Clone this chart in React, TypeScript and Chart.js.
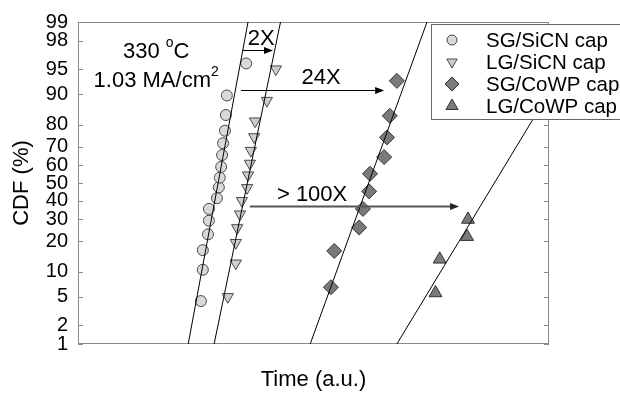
import React, { useEffect, useRef } from "react";
import { Chart, registerables } from "chart.js";

Chart.register(...registerables);

// ---------------- data ----------------
const tickLabelsCdf = [1, 2, 5, 10, 20, 30, 40, 50, 60, 70, 80, 90, 95, 98, 99];

const seriesNames = ["SG/SiCN cap", "LG/SiCN cap", "SG/CoWP cap", "LG/CoWP cap"];

const sgSiCNTime = [26.1, 26.5, 26.5, 27.6, 27.8, 27.8, 29.5, 29.9, 30.1, 30.4, 30.6, 30.8, 31.2, 31.4, 31.6, 35.7];
const sgSiCNCdf = [4.4, 10.5, 16.6, 22.9, 29.3, 35.4, 41.3, 47.5, 53.1, 59.2, 65.7, 71.7, 77.5, 83.7, 89.7, 95.8];

const lgSiCNTime = [31.8, 33.5, 33.5, 33.8, 34.4, 34.8, 35.9, 36.1, 36.5, 36.7, 37.4, 37.6, 40.1, 42.0];
const lgSiCNCdf = [5.0, 12.3, 19.4, 25.8, 32.6, 39.9, 47.2, 54.5, 61.1, 68.0, 74.7, 81.4, 88.3, 95.0];

const sgCoWPTime = [53.7, 54.4, 59.7, 60.5, 61.8, 62.0, 65.0, 65.6, 66.2, 67.7];
const sgCoWPCdf = [6.6, 16.3, 26.0, 35.4, 45.2, 55.3, 64.6, 74.5, 83.4, 93.0];

const lgCoWPTime = [75.9, 76.8, 82.6, 82.8];
const lgCoWPCdf = [5.6, 13.5, 21.9, 29.9];

// fitted lines (time at 1 % and at 99 %)
const fitCdf = [1, 99];
const sgSiCNFitTime = [23.4, 36.1];
const lgSiCNFitTime = [28.9, 43.0];
const sgCoWPFitTime = [49.3, 74.1];
const lgCoWPFitTime = [67.7, 109.1];

// annotations
const arrowLabels = ["2X", "24X", "> 100X"];
const arrowStartTime = [35.0, 34.6, 36.5];
const arrowEndTime = [41.4, 65.0, 80.9];
const arrowCdf = [97.3, 91.1, 37.0];
const arrowLabelTime = [38.9, 51.6, 49.7];
const arrowLabelCdf = [98.1, 93.6, 43.0];

const conditionTime = 16.6;
const conditionCdf = [97.1, 93.0];

// ---------------- helpers ----------------
const FONT = '"Liberation Sans", Arial, Helvetica, sans-serif';
const FRAME = "#8a8a8a";

function probit(p: number): number {
  const a = [-3.969683028665376e1, 2.209460984245205e2, -2.759285104469687e2, 1.38357751867269e2, -3.066479806614716e1, 2.506628277459239];
  const b = [-5.447609879822406e1, 1.615858368580409e2, -1.556989798598866e2, 6.680131188771972e1, -1.328068155288572e1];
  const c = [-7.784894002430293e-3, -3.223964580411365e-1, -2.400758277161838, -2.549732539343734, 4.374664141464968, 2.938163982698783];
  const d = [7.784695709041462e-3, 3.224671290700398e-1, 2.445134137142996, 3.754408661907416];
  const pl = 0.02425;
  if (p < pl) {
    const q = Math.sqrt(-2 * Math.log(p));
    return (((((c[0] * q + c[1]) * q + c[2]) * q + c[3]) * q + c[4]) * q + c[5]) / ((((d[0] * q + d[1]) * q + d[2]) * q + d[3]) * q + 1);
  }
  if (p > 1 - pl) {
    const q = Math.sqrt(-2 * Math.log(1 - p));
    return -(((((c[0] * q + c[1]) * q + c[2]) * q + c[3]) * q + c[4]) * q + c[5]) / ((((d[0] * q + d[1]) * q + d[2]) * q + d[3]) * q + 1);
  }
  const q = p - 0.5;
  const r = q * q;
  return ((((((a[0] * r + a[1]) * r + a[2]) * r + a[3]) * r + a[4]) * r + a[5]) * q) / (((((b[0] * r + b[1]) * r + b[2]) * r + b[3]) * r + b[4]) * r + 1);
}
const zOf = (pct: number) => probit(pct / 100);

const styles = [
  { shape: "circle", fill: "#d9d9d9", stroke: "#4a4a4a", r: 5.5 },
  { shape: "triDown", fill: "#cdcdcd", stroke: "#4a4a4a", r: 6.5 },
  { shape: "diamond", fill: "#7a7a7a", stroke: "#333333", r: 7.5 },
  { shape: "triUp", fill: "#7a7a7a", stroke: "#333333", r: 7.5 },
];

function toPoints(t: number[], cdf: number[]) {
  return t.map((x, i) => ({ x, y: zOf(cdf[i]) }));
}

function drawMarker(ctx: CanvasRenderingContext2D, shape: string, x: number, y: number, r: number, fill: string, stroke: string) {
  ctx.beginPath();
  if (shape === "circle") {
    ctx.arc(x, y, r, 0, Math.PI * 2);
  } else if (shape === "diamond") {
    ctx.moveTo(x, y - r);
    ctx.lineTo(x + r, y);
    ctx.lineTo(x, y + r);
    ctx.lineTo(x - r, y);
  } else {
    const s = shape === "triDown" ? -1 : 1;
    const h = (Math.sqrt(3) / 2) * r;
    ctx.moveTo(x, y - s * r);
    ctx.lineTo(x + h, y + (s * r) / 2);
    ctx.lineTo(x - h, y + (s * r) / 2);
  }
  ctx.closePath();
  ctx.fillStyle = fill;
  ctx.fill();
  ctx.lineWidth = 1;
  ctx.strokeStyle = stroke;
  ctx.stroke();
}

function drawRich(ctx: CanvasRenderingContext2D, parts: { t: string; sup?: boolean }[], cx: number, cy: number, size: number) {
  const supSize = Math.round(size * 0.62);
  let total = 0;
  for (const p of parts) {
    ctx.font = `${p.sup ? supSize : size}px ${FONT}`;
    total += ctx.measureText(p.t).width;
  }
  let x = cx - total / 2;
  ctx.textAlign = "left";
  ctx.textBaseline = "middle";
  ctx.fillStyle = "#000";
  for (const p of parts) {
    ctx.font = `${p.sup ? supSize : size}px ${FONT}`;
    ctx.fillText(p.t, x, p.sup ? cy - size * 0.38 : cy);
    x += ctx.measureText(p.t).width;
  }
}

const decorPlugin = {
  id: "decor",
  beforeDatasetsDraw(chart: any) {
    const { ctx, chartArea: ca, scales } = chart;
    const ys = scales.y;
    ctx.save();
    ctx.strokeStyle = FRAME;
    ctx.lineWidth = 1;
    ctx.strokeRect(ca.left + 0.5, ca.top + 0.5, ca.right - ca.left - 1, ca.bottom - ca.top - 1);
    ctx.beginPath();
    for (const v of tickLabelsCdf) {
      const py = Math.round(ys.getPixelForValue(zOf(v))) + 0.5;
      ctx.moveTo(ca.left, py);
      ctx.lineTo(ca.left + 5, py);
      ctx.moveTo(ca.right, py);
      ctx.lineTo(ca.right - 5, py);
    }
    ctx.stroke();
    ctx.restore();
  },
  afterDraw(chart: any) {
    const { ctx, scales } = chart;
    const xs = scales.x;
    const ys = scales.y;
    ctx.save();
    // arrows
    arrowLabels.forEach((lab, i) => {
      const y = Math.round(ys.getPixelForValue(zOf(arrowCdf[i]))) + 0.5;
      const x1 = xs.getPixelForValue(arrowStartTime[i]);
      const x2 = xs.getPixelForValue(arrowEndTime[i]);
      const big = i === 2;
      ctx.strokeStyle = big ? "#555555" : "#000";
      ctx.lineWidth = big ? 2 : 1;
      ctx.beginPath();
      ctx.moveTo(x1, y);
      ctx.lineTo(x2 - 6, y);
      ctx.stroke();
      ctx.fillStyle = big ? "#222" : "#000";
      ctx.beginPath();
      ctx.moveTo(x2, y);
      ctx.lineTo(x2 - 9, y - 3.5);
      ctx.lineTo(x2 - 9, y + 3.5);
      ctx.closePath();
      ctx.fill();
      ctx.font = `22px ${FONT}`;
      ctx.textAlign = "center";
      ctx.textBaseline = "middle";
      ctx.fillStyle = "#000";
      ctx.fillText(lab, xs.getPixelForValue(arrowLabelTime[i]), ys.getPixelForValue(zOf(arrowLabelCdf[i])));
    });
    // test conditions
    const cx = xs.getPixelForValue(conditionTime);
    drawRich(ctx, [{ t: "330 " }, { t: "o", sup: true }, { t: "C" }], cx, ys.getPixelForValue(zOf(conditionCdf[0])), 22);
    drawRich(ctx, [{ t: "1.03 MA/cm" }, { t: "2", sup: true }], cx, ys.getPixelForValue(zOf(conditionCdf[1])), 22);
    // legend
    const lx = 431, ly = 24, lw = 200, lh = 95;
    ctx.fillStyle = "#fff";
    ctx.fillRect(lx, ly, lw, lh);
    ctx.strokeStyle = "#666";
    ctx.lineWidth = 1;
    ctx.strokeRect(lx + 0.5, ly + 0.5, lw, lh);
    seriesNames.forEach((name, i) => {
      const rowY = ly + 16 + i * 22;
      const st = styles[i];
      drawMarker(ctx, st.shape, 452, rowY, st.shape === "circle" ? 5 : st.r - 0.5, st.fill, st.stroke);
      ctx.font = `20.5px ${FONT}`;
      ctx.textAlign = "left";
      ctx.textBaseline = "middle";
      ctx.fillStyle = "#000";
      ctx.fillText(name, 486, rowY + 1);
    });
    ctx.restore();
  },
};

export default function App() {
  const ref = useRef<HTMLCanvasElement>(null);
  useEffect(() => {
    const scatterSeries = [
      [sgSiCNTime, sgSiCNCdf],
      [lgSiCNTime, lgSiCNCdf],
      [sgCoWPTime, sgCoWPCdf],
      [lgCoWPTime, lgCoWPCdf],
    ];
    const fits = [sgSiCNFitTime, lgSiCNFitTime, sgCoWPFitTime, lgCoWPFitTime];
    const datasets: any[] = [];
    fits.forEach((f, i) => {
      datasets.push({
        label: seriesNames[i] + " fit",
        data: toPoints(f, fitCdf),
        showLine: true,
        borderColor: "#000",
        borderWidth: 1,
        pointRadius: 0,
        fill: false,
      });
    });
    scatterSeries.forEach(([t, c], i) => {
      const st = styles[i];
      datasets.push({
        label: seriesNames[i],
        data: toPoints(t, c),
        showLine: false,
        pointStyle: st.shape === "circle" ? "circle" : st.shape === "diamond" ? "rectRot" : "triangle",
        rotation: st.shape === "triDown" ? 180 : 0,
        pointRadius: st.r,
        pointBackgroundColor: st.fill,
        pointBorderColor: st.stroke,
        pointBorderWidth: 1,
      });
    });
    const zMin = zOf(tickLabelsCdf[0]);
    const zMax = zOf(tickLabelsCdf[tickLabelsCdf.length - 1]);
    const chart = new Chart(ref.current!, {
      type: "scatter",
      data: { datasets },
      options: {
        responsive: false,
        animation: false,
        devicePixelRatio: 1,
        layout: { padding: { top: 15, right: 71, left: 0, bottom: 0 } },
        plugins: { legend: { display: false }, tooltip: { enabled: false } },
        scales: {
          x: {
            type: "linear",
            min: 0,
            max: 100,
            grid: { display: false, drawTicks: false },
            border: { display: false },
            ticks: { display: false },
            title: { display: true, text: "Time (a.u.)", color: "#000", font: { size: 22, family: FONT }, padding: { top: 0, bottom: 0 } },
            afterFit: (s: any) => {
              s.height = 49;
            },
          },
          y: {
            type: "linear",
            min: zMin,
            max: zMax,
            grid: { display: false, drawTicks: false },
            border: { display: false },
            afterBuildTicks: (s: any) => {
              s.ticks = tickLabelsCdf.map((v) => ({ value: zOf(v) }));
            },
            ticks: {
              autoSkip: false,
              padding: 10,
              color: "#000",
              font: { size: 20, family: FONT },
              callback: (_v: any, i: number) => String(tickLabelsCdf[i]),
            },
            title: { display: true, text: "CDF (%)", color: "#000", font: { size: 22, family: FONT }, padding: { top: 9, bottom: 0 } },
            afterFit: (s: any) => {
              s.width = 78;
            },
          },
        },
      },
      plugins: [decorPlugin],
    } as any);
    return () => chart.destroy();
  }, []);
  return (
    <div style={{ position: "fixed", left: 0, top: 0, width: 620, height: 393, background: "#fff" }}>
      <canvas ref={ref} width={620} height={393} style={{ display: "block", width: 620, height: 393 }} />
    </div>
  );
}
